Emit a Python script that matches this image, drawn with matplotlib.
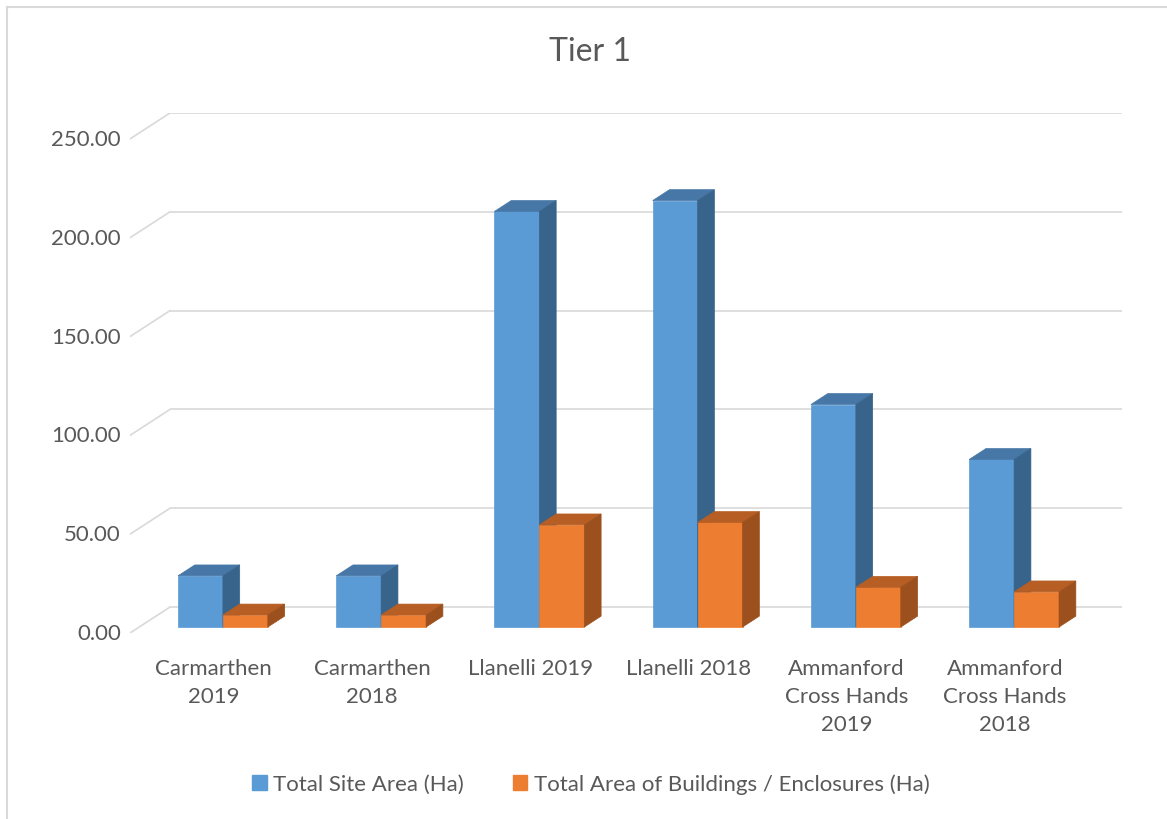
import matplotlib.pyplot as plt
from matplotlib.patches import Polygon, Patch
from matplotlib.lines import Line2D

# ---- data ----
categories = ['Carmarthen\n2019', 'Carmarthen\n2018', 'Llanelli 2019', 'Llanelli 2018',
              'Ammanford\nCross Hands\n2019', 'Ammanford\nCross Hands\n2018']
site_area = [25.9, 25.9, 210.3, 215.8, 112.6, 84.8]
building_area = [6.1, 6.1, 51.7, 52.9, 20.1, 17.8]
series_names = ['Total Site Area (Ha)', 'Total Area of Buildings / Enclosures (Ha)']
y_ticks = [0, 50, 100, 150, 200, 250]
title = 'Tier 1'

# ---- styling / fake 3D geometry ----
FRONT = ['#5B9BD5', '#ED7D31']
TOP = ['#4677A6', '#B65E23']
SIDE = ['#38638A', '#9B501D']
GRID = '#D9D9D9'
TEXT = '#595959'

DX, DY = 0.2527, 13.13      # offset of full depth (x units, value units)
D0, D1 = 0.23, 0.65         # bar front/back depth fraction
BAR_W = 0.284
XL, XR = -0.529, 5.74

plt.rcParams['font.family'] = ['Lato', 'DejaVu Sans']


def proj(x, v, d):
    return (x + d * DX, v + d * DY)


fig = plt.figure(figsize=(11.67, 8.2), dpi=100)
ax = fig.add_axes([130 / 1167, 186 / 820, 992 / 1167, 520 / 820])
ax.set_xlim(XL, XR)
ax.set_ylim(0, 250 + DY)
ax.axis('off')

# walls: back gridlines + side diagonals
for v in y_ticks:
    ax.plot([XL + DX, XR], [v + DY, v + DY], color=GRID, lw=1.2, zorder=1,
            solid_capstyle='butt')
    ax.plot([XL, XL + DX], [v, v + DY], color=GRID, lw=1.2, zorder=1)
    ax.text(XL - 0.057, v, f'{v:.2f}', ha='right', va='center',
            fontsize=16, color=TEXT)

# bars, drawn cluster by cluster so faces overlap correctly
z = 2
for i in range(len(categories)):
    for s, vals in enumerate([site_area, building_area]):
        v = vals[i]
        x0 = i - BAR_W + s * BAR_W
        x1 = x0 + BAR_W
        ax.bar(x0 + D0 * DX, v, width=BAR_W, bottom=D0 * DY, align='edge',
               color=FRONT[s], edgecolor=FRONT[s], lw=0.5, zorder=z)
        top = [proj(x0, v, D0), proj(x1, v, D0), proj(x1, v, D1), proj(x0, v, D1)]
        side = [proj(x1, 0, D0), proj(x1, 0, D1), proj(x1, v, D1), proj(x1, v, D0)]
        ax.add_patch(Polygon(top, closed=True, fc=TOP[s], ec=TOP[s], lw=0.5, zorder=z))
        ax.add_patch(Polygon(side, closed=True, fc=SIDE[s], ec=SIDE[s], lw=0.5, zorder=z))
        z += 1
    ax.text(i, -12.5, categories[i], ha='center', va='top', fontsize=16,
            color=TEXT, linespacing=1.52, clip_on=False)

fig.text(590 / 1167, 1 - 52 / 820, title, ha='center', va='center',
         fontsize=23, color=TEXT)

handles = [Patch(color=FRONT[0]), Patch(color=FRONT[1])]
leg = fig.legend(handles, series_names, loc='center', ncol=2, frameon=False,
                 bbox_to_anchor=(591 / 1167, 35 / 820), fontsize=16,
                 handlelength=0.65, handleheight=0.65, handletextpad=0.3,
                 columnspacing=2.2)
for t in leg.get_texts():
    t.set_color(TEXT)

# chart frame (only top and left are visible in the crop)
fig.add_artist(Line2D([7 / 1167, 1], [1 - 8 / 820, 1 - 8 / 820], color=GRID, lw=1.5))
fig.add_artist(Line2D([7 / 1167, 7 / 1167], [0, 1 - 8 / 820], color=GRID, lw=1.5))

fig.savefig('out.png', dpi=100, facecolor='white')
